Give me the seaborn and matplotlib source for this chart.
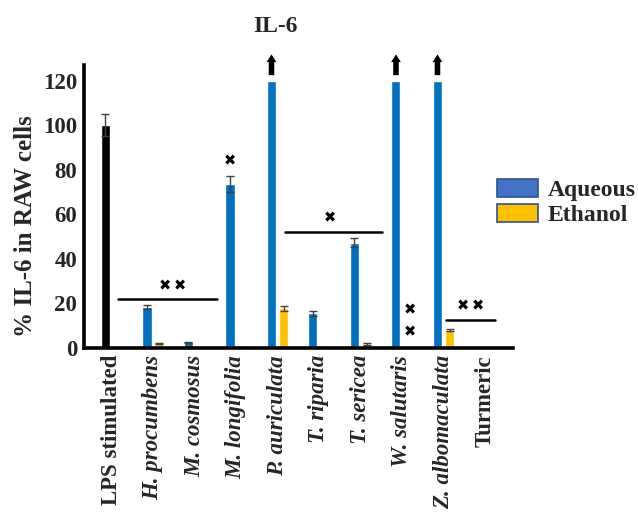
import numpy as np
import pandas as pd
import matplotlib
matplotlib.use("Agg")
import matplotlib.pyplot as plt
import seaborn as sns
from matplotlib.patches import Patch

categories = ["LPS stimulated", "H. procumbens", "M. cosmosus", "M. longifolia",
              "P. auriculata", "T. riparia", "T. sericea", "W. salutaris",
              "Z. albomaculata", "Turmeric"]
aqueous = [100, 18.5, 2.5, 73.5, 120, 15.5, 47.2, 120, 120, 0]
aqueous_err = [5, 1.0, 0.3, 3.5, 0, 1.0, 2.0, 0, 0, 0]
ethanol = [np.nan, 2.0, 0, 0.3, 17.8, 0.3, 1.8, 0, 8.2, 0]
ethanol_err = [0, 0.3, 0, 0.2, 1.0, 0.2, 0.3, 0, 0.4, 0]
clipped = ["P. auriculata", "W. salutaris", "Z. albomaculata"]
ticks = [0, 20, 40, 60, 80, 100, 120]

sns.set_style("white")
plt.rcParams["font.family"] = ["Liberation Serif", "DejaVu Sans"]

df = pd.DataFrame({
    "category": categories * 2,
    "extract": ["Aqueous"] * len(categories) + ["Ethanol"] * len(categories),
    "value": aqueous + ethanol,
})

fig = plt.figure(figsize=(6.38, 5.18), dpi=100)
ax = fig.add_axes([84 / 638, 1 - 348 / 518, (513 - 84) / 638, (348 - 65) / 518])

sns.barplot(data=df, x="category", y="value", hue="extract", order=categories,
            hue_order=["Aqueous", "Ethanol"],
            palette={"Aqueous": "#0070C0", "Ethanol": "#FFC000"},
            width=0.58, gap=0.25, dodge=True, legend=False, errorbar=None,
            saturation=1, ax=ax)

ax.containers[0][0].set_facecolor("black")

for cont, errs in zip(ax.containers, [aqueous_err, ethanol_err]):
    xs, ys, es = [], [], []
    for p in cont:
        cx = p.get_x() + p.get_width() / 2
        idx = int(round(cx))
        if errs[idx] > 0:
            xs.append(cx)
            ys.append(p.get_height())
            es.append(errs[idx])
    ax.errorbar(xs, ys, yerr=es, fmt="none", ecolor="#404040", elinewidth=1,
                capsize=3, capthick=1)

for p in ax.containers[0]:
    cx = p.get_x() + p.get_width() / 2
    if categories[int(round(cx))] in clipped:
        ax.annotate("", xy=(cx, 133), xytext=(cx, 121.2),
                    arrowprops=dict(arrowstyle="simple,head_width=0.7,head_length=0.55,tail_width=0.4",
                                    color="black", mutation_scale=10, lw=0),
                    annotation_clip=False)

ax.set_ylim(0, 127)
ax.set_xlim(-0.663, 9.675)
ax.set_yticks(ticks)
ax.set_yticklabels([str(t) for t in ticks], fontsize=16.5, fontweight="bold")
ax.set_xticks(range(len(categories)))
ax.set_xticklabels(categories, rotation=90, fontsize=16.5, fontweight="bold")
for lab in ax.get_xticklabels():
    if lab.get_text() not in ("LPS stimulated", "Turmeric"):
        lab.set_fontstyle("italic")
ax.tick_params(axis="y", length=0, pad=5)
ax.tick_params(axis="x", length=0, pad=5)
ax.set_xlabel("")
ax.set_ylabel("% IL-6 in RAW cells", fontsize=18, fontweight="bold")
ax.yaxis.set_label_coords((37 - 84) / 429, (348 - 226) / 283)
for s in ["top", "right"]:
    ax.spines[s].set_visible(False)
for s in ["left", "bottom"]:
    ax.spines[s].set_linewidth(2.6)
    ax.spines[s].set_color("black")

mk = dict(family="DejaVu Sans", fontsize=10.5, ha="center", va="center", color="black")
ax.plot([0.157, 2.54], [21.8, 21.8], color="black", lw=1.8, clip_on=False)
ax.text(1.29, 27.8, "\u2716", **mk)
ax.text(1.65, 27.8, "\u2716", **mk)
ax.text(2.86, 83.9, "\u2716", **mk)
ax.plot([4.18, 6.53], [52.2, 52.2], color="black", lw=1.8, clip_on=False)
ax.text(5.27, 58.5, "\u2716", **mk)
ax.text(7.19, 17.0, "\u2716", **mk)
ax.text(7.19, 7.0, "\u2716", **mk)
ax.plot([8.06, 9.24], [12.6, 12.6], color="black", lw=1.8, clip_on=False)
ax.text(8.47, 18.8, "\u2716", **mk)
ax.text(8.83, 18.8, "\u2716", **mk)

fig.text(275 / 638, 1 - 27 / 518, "IL-6", fontsize=17, fontweight="bold",
         ha="center", va="center")

handles = [Patch(facecolor="#4472C4", edgecolor="#2F528F", lw=1.2, label="Aqueous"),
           Patch(facecolor="#FFC000", edgecolor="#2F528F", lw=1.2, label="Ethanol")]
fig.legend(handles=handles, loc="upper left", bbox_to_anchor=(497 / 638, 1 - 179 / 518),
           frameon=False, prop=dict(size=17, weight="bold"), handlelength=1.75,
           handleheight=0.8, handletextpad=0.4, labelspacing=0.12, borderaxespad=0,
           borderpad=0)

fig.savefig("out.png", dpi=100)
